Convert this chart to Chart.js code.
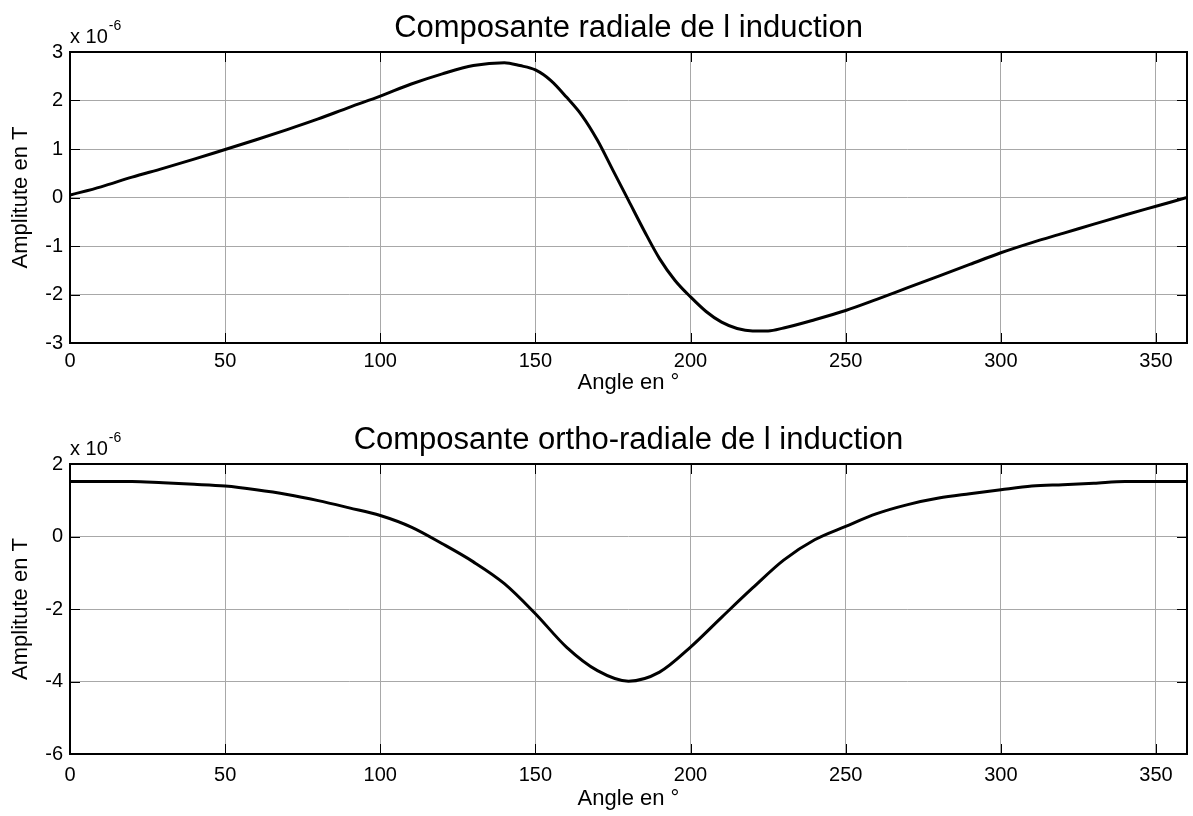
<!DOCTYPE html>
<html lang="fr">
<head>
<meta charset="UTF-8">
<title>Composantes de l induction</title>
<script src="https://cdn.jsdelivr.net/npm/chart.js"></script>
<style>
    body { margin: 0; background: #fff; }
    .plot { position: absolute; left: 0; width: 1193px; height: 408px; }
    #top { top: 0; }
    #bottom { top: 408px; }
</style>
</head>
<body>
<div class="plot" id="top"><canvas id="radialChart"></canvas></div>
<div class="plot" id="bottom"><canvas id="orthoChart"></canvas></div>

<script>
// values in units of 1e-6 T
const radialAngles = [0, 10, 20, 30, 40, 50, 60, 70, 80, 90, 100, 110, 120, 130, 140, 145, 150, 155, 160, 165,
    170, 175, 180, 185, 190, 195, 200, 205, 210, 215, 220, 225, 230, 240, 250, 260, 270, 280, 290, 300,
    310, 320, 330, 340, 350, 360];
const radialValues = [0.05, 0.22, 0.42, 0.60, 0.79, 0.99, 1.19, 1.40, 1.62, 1.86, 2.09, 2.34, 2.55, 2.72, 2.78, 2.72, 2.63, 2.41, 2.07, 1.69,
    1.18, 0.56, -0.06, -0.68, -1.26, -1.71, -2.05, -2.35, -2.57, -2.70, -2.75, -2.75, -2.69, -2.52, -2.33, -2.10, -1.86, -1.62, -1.38, -1.14,
    -0.93, -0.74, -0.55, -0.36, -0.18, 0.0];

const orthoAngles = [0, 10, 20, 30, 40, 50, 60, 70, 80, 90, 100, 110, 120, 130, 140, 150, 160, 170, 180,
    190, 200, 210, 220, 230, 240, 250, 260, 270, 280, 290, 300, 310, 320, 330, 340, 350, 360];
const orthoValues = [1.52, 1.52, 1.52, 1.48, 1.44, 1.39, 1.29, 1.16, 0.99, 0.79, 0.58, 0.26, -0.20, -0.70, -1.30, -2.13, -3.05, -3.70, -3.99,
    -3.74, -3.05, -2.23, -1.42, -0.65, -0.09, 0.28, 0.63, 0.88, 1.06, 1.18, 1.29, 1.39, 1.43, 1.47, 1.52, 1.52, 1.52];

const xTicks = [0, 50, 100, 150, 200, 250, 300, 350];
const radialTicks = [-3, -2, -1, 0, 1, 2, 3];
const orthoTicks = [-6, -4, -2, 0, 2];

const fontFamily = "'Liberation Sans', Arial, sans-serif";
Chart.defaults.font.family = fontFamily;
Chart.defaults.color = '#000';

// axes box, inward ticks, title over the axes and the "x 10^-6" multiplier
const framePlugin = {
    id: 'frame',
    afterDraw(chart, args, opts) {
        const { ctx, chartArea: a, scales: { x, y } } = chart;
        ctx.save();
        ctx.strokeStyle = '#000';
        ctx.lineWidth = 1;
        ctx.beginPath();
        x.ticks.forEach(t => {
            const px = Math.round(x.getPixelForValue(t.value)) + 0.5;
            ctx.moveTo(px, a.bottom); ctx.lineTo(px, a.bottom - 10);
            ctx.moveTo(px, a.top); ctx.lineTo(px, a.top + 10);
        });
        y.ticks.forEach(t => {
            const py = Math.round(y.getPixelForValue(t.value)) + 0.5;
            ctx.moveTo(a.left, py); ctx.lineTo(a.left + 10, py);
            ctx.moveTo(a.right, py); ctx.lineTo(a.right - 10, py);
        });
        ctx.stroke();
        ctx.lineWidth = 2;
        ctx.strokeRect(a.left, a.top, a.right - a.left, a.bottom - a.top);

        ctx.fillStyle = '#000';
        ctx.textAlign = 'center';
        ctx.textBaseline = 'middle';
        ctx.font = '31px ' + fontFamily;
        ctx.fillText(opts.title, (a.left + a.right) / 2, a.top - 24);

        ctx.textAlign = 'left';
        ctx.textBaseline = 'alphabetic';
        ctx.font = '20px ' + fontFamily;
        const base = 'x 10';
        ctx.fillText(base, a.left, a.top - 9);
        const w = ctx.measureText(base).width;
        ctx.font = '14px ' + fontFamily;
        ctx.fillText('-6', a.left + w + 1, a.top - 22);
        ctx.restore();
    }
};

function makeChart(id, title, angles, values, yMin, yMax, yTickList, opts) {
    const points = angles.map((a, i) => ({ x: a, y: values[i] }));
    return new Chart(document.getElementById(id), {
        type: 'line',
        data: {
            datasets: [{
                data: points,
                borderColor: '#000',
                borderWidth: 3,
                pointRadius: 0,
                cubicInterpolationMode: 'monotone',
                fill: false
            }]
        },
        options: {
            responsive: true,
            maintainAspectRatio: false,
            animation: false,
            layout: { padding: { left: 0, right: 6, top: opts.top, bottom: 0 } },
            plugins: {
                legend: { display: false },
                tooltip: { enabled: false },
                title: { display: false },
                frame: { title: title }
            },
            scales: {
                x: {
                    type: 'linear',
                    min: 0,
                    max: 360,
                    afterBuildTicks: s => { s.ticks = xTicks.map(v => ({ value: v })); },
                    ticks: { font: { size: 20 }, padding: opts.xTickPad, maxRotation: 0 },
                    grid: { color: '#a8a8a8', lineWidth: 1, drawTicks: false },
                    border: { display: false },
                    title: {
                        display: true,
                        text: 'Angle en °',
                        font: { size: 22 },
                        padding: { top: 0, bottom: opts.xTitleBottom }
                    },
                    afterFit: s => { s.height = opts.xHeight; }
                },
                y: {
                    min: yMin,
                    max: yMax,
                    afterBuildTicks: s => { s.ticks = yTickList.map(v => ({ value: v })); },
                    ticks: { font: { size: 20 }, padding: 7 },
                    grid: { color: '#a8a8a8', lineWidth: 1, drawTicks: false },
                    border: { display: false },
                    title: {
                        display: true,
                        text: 'Amplitute en T',
                        font: { size: 22 },
                        padding: { top: 8, bottom: 0 }
                    },
                    afterFit: s => { s.width = 70; }
                }
            }
        },
        plugins: [framePlugin]
    });
}

makeChart('radialChart', 'Composante radiale de l induction', radialAngles, radialValues, -3, 3, radialTicks,
    { top: 52, xHeight: 65, xTickPad: 6, xTitleBottom: 12 });
makeChart('orthoChart', 'Composante ortho-radiale de l induction', orthoAngles, orthoValues, -6, 2, orthoTicks,
    { top: 56, xHeight: 62, xTickPad: 9, xTitleBottom: 4 });
</script>
</body>
</html>
